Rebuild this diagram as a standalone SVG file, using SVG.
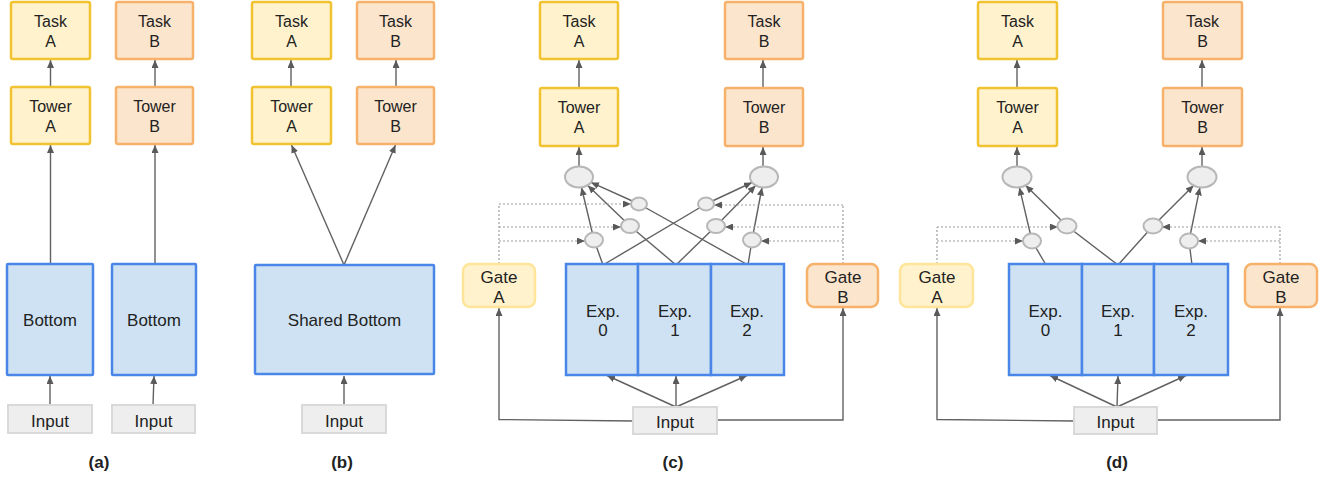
<svg xmlns="http://www.w3.org/2000/svg" width="1338" height="483" viewBox="0 0 1338 483">
<style>
text{font-family:"Liberation Sans",Arial,sans-serif;fill:#222;text-anchor:middle}
.t16{font-size:16px}
.t17{font-size:17px}
.lab{font-size:17px;font-weight:bold}
.ya{fill:#fff2cc;stroke:#f1c232;stroke-width:2.5}
.ob{fill:#fce5cd;stroke:#f6b26b;stroke-width:2.5}
.ga{fill:#fff2cc;stroke:#ffe599;stroke-width:2.5}
.gb{fill:#fce5cd;stroke:#f6b26b;stroke-width:2.5}
.bl{fill:#cfe2f3;stroke:#4a86e8;stroke-width:2.5}
.in{fill:#eeeeee;stroke:#d9d9d9;stroke-width:2}
.ci{fill:#eeeeee;stroke:#b7b7b7;stroke-width:2}
.ln{fill:none;stroke:#616161;stroke-width:1.4}
.dt{fill:none;stroke:#9e9e9e;stroke-width:1.2;stroke-dasharray:2 2}
.ar{marker-end:url(#ah)}
</style>
<defs>
<marker id="ah" markerWidth="8" markerHeight="7" refX="8" refY="3.5" orient="auto" markerUnits="userSpaceOnUse">
<path d="M0,0 L8,3.5 L0,7 z" fill="#595959"/>
</marker>
</defs>

<g id="connectors">
<!-- (a) -->
<line class="ln ar" x1="50.5" y1="87" x2="50.5" y2="60"/>
<line class="ln ar" x1="155" y1="87" x2="155" y2="60"/>
<line class="ln ar" x1="50.5" y1="264" x2="50.5" y2="145"/>
<line class="ln ar" x1="155" y1="264" x2="155" y2="145"/>
<line class="ln ar" x1="50" y1="405" x2="50" y2="376"/>
<line class="ln ar" x1="153" y1="405" x2="154" y2="376"/>
<!-- (b) -->
<line class="ln ar" x1="291" y1="87" x2="291" y2="60"/>
<line class="ln ar" x1="396" y1="87" x2="396" y2="60"/>
<line class="ln ar" x1="344" y1="265" x2="291.5" y2="145"/>
<line class="ln ar" x1="344" y1="265" x2="395.5" y2="145"/>
<line class="ln ar" x1="344" y1="405" x2="344" y2="376"/>
<!-- (c) -->
<line class="ln ar" x1="579" y1="88" x2="579" y2="60"/>
<line class="ln ar" x1="763" y1="88" x2="763" y2="60"/>
<line class="ln ar" x1="579" y1="166" x2="579" y2="147"/>
<line class="ln ar" x1="763" y1="166" x2="763" y2="147"/>
<line class="ln" x1="603" y1="265" x2="594" y2="240"/>
<line class="ln" x1="603" y1="265" x2="706" y2="204"/>
<line class="ln" x1="676" y1="265" x2="630" y2="226"/>
<line class="ln" x1="676" y1="265" x2="716" y2="226"/>
<line class="ln" x1="748" y1="265" x2="639" y2="204"/>
<line class="ln" x1="748" y1="265" x2="752" y2="240"/>
<line class="ln ar" x1="594" y1="240" x2="581.5" y2="187.5"/>
<line class="ln ar" x1="630" y1="226" x2="587.8" y2="185.4"/>
<line class="ln ar" x1="639" y1="204" x2="591" y2="182.4"/>
<line class="ln ar" x1="706" y1="204" x2="752" y2="182.5"/>
<line class="ln ar" x1="716" y1="226" x2="755.7" y2="185.5"/>
<line class="ln ar" x1="752" y1="240" x2="762" y2="187.5"/>
<polyline class="dt" points="499,264 499,204 499,204"/>
<polyline class="dt ar" points="499,204 631,204"/>
<polyline class="dt ar" points="499,227 621,227"/>
<polyline class="dt ar" points="499,241 585,241"/>
<polyline class="dt" points="843,264 843,205"/>
<polyline class="dt ar" points="843,205 714,205"/>
<polyline class="dt ar" points="843,227 725,227"/>
<polyline class="dt ar" points="843,241 761,241"/>
<line class="ln ar" x1="676" y1="407" x2="607" y2="375.5"/>
<line class="ln ar" x1="676" y1="407" x2="676" y2="376"/>
<line class="ln ar" x1="676" y1="407" x2="747" y2="375.5"/>
<polyline class="ln ar" points="633,421 499,419.5 499,308"/>
<polyline class="ln ar" points="717,420 843,420 843,308"/>
<!-- (d) -->
<line class="ln ar" x1="1017" y1="88" x2="1017" y2="60"/>
<line class="ln ar" x1="1202" y1="88" x2="1202" y2="60"/>
<line class="ln ar" x1="1017" y1="166" x2="1017" y2="147"/>
<line class="ln ar" x1="1202" y1="166" x2="1202" y2="147"/>
<line class="ln" x1="1046" y1="265" x2="1032" y2="241"/>
<line class="ln" x1="1118" y1="265" x2="1067" y2="226"/>
<line class="ln" x1="1118" y1="265" x2="1153" y2="226"/>
<line class="ln" x1="1192" y1="265" x2="1189" y2="241"/>
<line class="ln ar" x1="1032" y1="241" x2="1019.4" y2="187.4"/>
<line class="ln ar" x1="1067" y1="226" x2="1025.5" y2="185.3"/>
<line class="ln ar" x1="1153" y1="226" x2="1193.6" y2="185.4"/>
<line class="ln ar" x1="1189" y1="241" x2="1199.9" y2="187.4"/>
<polyline class="dt" points="937,264 937,227"/>
<polyline class="dt ar" points="937,227 1058,227"/>
<polyline class="dt ar" points="937,241 1023,241"/>
<polyline class="dt" points="1280,264 1280,227"/>
<polyline class="dt ar" points="1280,227 1162,227"/>
<polyline class="dt ar" points="1280,241 1198,241"/>
<line class="ln ar" x1="1117" y1="407" x2="1050" y2="375.5"/>
<line class="ln ar" x1="1117" y1="407" x2="1118" y2="376"/>
<line class="ln ar" x1="1117" y1="407" x2="1186" y2="375.5"/>
<polyline class="ln ar" points="1074,421 937,419.5 937,308"/>
<polyline class="ln ar" points="1157,420 1280,420 1280,308"/>
</g>

<!-- panel (a) -->
<g id="a-taskA"><rect class="ya" x="11" y="2" width="79" height="57" rx="2"/><text class="t16" x="50.5" y="27">Task</text><text class="t16" x="50.5" y="47">A</text></g>
<g id="a-taskB"><rect class="ob" x="116" y="2" width="77" height="57" rx="2"/><text class="t16" x="154.5" y="27">Task</text><text class="t16" x="154.5" y="47">B</text></g>
<g id="a-towerA"><rect class="ya" x="11" y="87" width="79" height="57" rx="2"/><text class="t16" x="50.5" y="112">Tower</text><text class="t16" x="50.5" y="132">A</text></g>
<g id="a-towerB"><rect class="ob" x="116" y="87" width="77" height="57" rx="2"/><text class="t16" x="154.5" y="112">Tower</text><text class="t16" x="154.5" y="132">B</text></g>
<g id="a-bottom1"><rect class="bl" x="7" y="264" width="86" height="111" rx="1"/><text class="t17" x="50" y="326">Bottom</text></g>
<g id="a-bottom2"><rect class="bl" x="112" y="264" width="84" height="111" rx="1"/><text class="t17" x="154" y="326">Bottom</text></g>
<g id="a-input1"><rect class="in" x="8" y="405" width="84" height="28"/><text class="t17" x="50" y="427">Input</text></g>
<g id="a-input2"><rect class="in" x="112" y="405" width="83" height="28"/><text class="t17" x="153.5" y="427">Input</text></g>
<text class="lab" x="99" y="468">(a)</text>

<!-- panel (b) -->
<g id="b-taskA"><rect class="ya" x="252" y="2" width="79" height="57" rx="2"/><text class="t16" x="291.5" y="27">Task</text><text class="t16" x="291.5" y="47">A</text></g>
<g id="b-taskB"><rect class="ob" x="357" y="2" width="77" height="57" rx="2"/><text class="t16" x="395.5" y="27">Task</text><text class="t16" x="395.5" y="47">B</text></g>
<g id="b-towerA"><rect class="ya" x="252" y="87" width="79" height="57" rx="2"/><text class="t16" x="291.5" y="112">Tower</text><text class="t16" x="291.5" y="132">A</text></g>
<g id="b-towerB"><rect class="ob" x="357" y="87" width="77" height="57" rx="2"/><text class="t16" x="395.5" y="112">Tower</text><text class="t16" x="395.5" y="132">B</text></g>
<g id="b-shared"><rect class="bl" x="255" y="265" width="179" height="109" rx="1"/><text class="t17" x="344.5" y="326">Shared Bottom</text></g>
<g id="b-input"><rect class="in" x="302" y="405" width="84" height="28"/><text class="t17" x="344" y="427">Input</text></g>
<text class="lab" x="342" y="468">(b)</text>

<!-- panel (c) -->
<g id="c-taskA"><rect class="ya" x="540" y="2" width="78" height="57" rx="2"/><text class="t16" x="579" y="27">Task</text><text class="t16" x="579" y="47">A</text></g>
<g id="c-taskB"><rect class="ob" x="725" y="2" width="78" height="57" rx="2"/><text class="t16" x="764" y="27">Task</text><text class="t16" x="764" y="47">B</text></g>
<g id="c-towerA"><rect class="ya" x="540" y="88" width="78" height="58" rx="2"/><text class="t16" x="579" y="113">Tower</text><text class="t16" x="579" y="133">A</text></g>
<g id="c-towerB"><rect class="ob" x="725" y="88" width="78" height="58" rx="2"/><text class="t16" x="764" y="113">Tower</text><text class="t16" x="764" y="133">B</text></g>
<g id="c-combA"><ellipse class="ci" cx="579" cy="177" rx="14" ry="10.5"/></g>
<g id="c-combB"><ellipse class="ci" cx="764" cy="177" rx="14" ry="10.5"/></g>
<g id="c-wA2"><ellipse class="ci" cx="639" cy="204" rx="8" ry="6.5"/></g>
<g id="c-wA1"><ellipse class="ci" cx="630" cy="226" rx="9" ry="7"/></g>
<g id="c-wA0"><ellipse class="ci" cx="594" cy="240" rx="9" ry="7.5"/></g>
<g id="c-wB0"><ellipse class="ci" cx="706" cy="204" rx="8" ry="6.5"/></g>
<g id="c-wB1"><ellipse class="ci" cx="716" cy="226" rx="9" ry="7"/></g>
<g id="c-wB2"><ellipse class="ci" cx="752" cy="240" rx="9" ry="7.5"/></g>
<g id="c-gateA"><rect class="ga" x="463" y="264" width="72" height="43" rx="7"/><text class="t17" x="499" y="283">Gate</text><text class="t17" x="499" y="303">A</text></g>
<g id="c-gateB"><rect class="gb" x="807" y="264" width="71" height="43" rx="7"/><text class="t17" x="843" y="283">Gate</text><text class="t17" x="843" y="303">B</text></g>
<g id="c-exp0"><rect class="bl" x="566" y="264" width="72" height="111"/><text class="t17" x="603" y="317">Exp.</text><text class="t17" x="603" y="336">0</text></g>
<g id="c-exp1"><rect class="bl" x="638" y="264" width="73" height="111"/><text class="t17" x="675" y="317">Exp.</text><text class="t17" x="675" y="336">1</text></g>
<g id="c-exp2"><rect class="bl" x="711" y="264" width="73" height="111"/><text class="t17" x="747" y="317">Exp.</text><text class="t17" x="747" y="336">2</text></g>
<g id="c-input"><rect class="in" x="633" y="407" width="84" height="27"/><text class="t17" x="675" y="428">Input</text></g>
<text class="lab" x="673" y="468">(c)</text>

<!-- panel (d) -->
<g id="d-taskA"><rect class="ya" x="978" y="2" width="79" height="57" rx="2"/><text class="t16" x="1017.5" y="27">Task</text><text class="t16" x="1017.5" y="47">A</text></g>
<g id="d-taskB"><rect class="ob" x="1163" y="2" width="79" height="57" rx="2"/><text class="t16" x="1202.5" y="27">Task</text><text class="t16" x="1202.5" y="47">B</text></g>
<g id="d-towerA"><rect class="ya" x="978" y="88" width="79" height="58" rx="2"/><text class="t16" x="1017.5" y="113">Tower</text><text class="t16" x="1017.5" y="133">A</text></g>
<g id="d-towerB"><rect class="ob" x="1163" y="88" width="79" height="58" rx="2"/><text class="t16" x="1202.5" y="113">Tower</text><text class="t16" x="1202.5" y="133">B</text></g>
<g id="d-combA"><ellipse class="ci" cx="1017" cy="177" rx="14.5" ry="10.5"/></g>
<g id="d-combB"><ellipse class="ci" cx="1202" cy="177" rx="14.5" ry="10.5"/></g>
<g id="d-wA1"><ellipse class="ci" cx="1067" cy="226" rx="9.5" ry="7.5"/></g>
<g id="d-wA0"><ellipse class="ci" cx="1032" cy="241" rx="9" ry="7.5"/></g>
<g id="d-wB1"><ellipse class="ci" cx="1153" cy="226" rx="9.5" ry="7.5"/></g>
<g id="d-wB2"><ellipse class="ci" cx="1189" cy="241" rx="9" ry="7.5"/></g>
<g id="d-gateA"><rect class="ga" x="900" y="264" width="73" height="43" rx="7"/><text class="t17" x="937" y="283">Gate</text><text class="t17" x="937" y="303">A</text></g>
<g id="d-gateB"><rect class="gb" x="1245" y="264" width="72" height="43" rx="7"/><text class="t17" x="1281" y="283">Gate</text><text class="t17" x="1281" y="303">B</text></g>
<g id="d-exp0"><rect class="bl" x="1009" y="264" width="73" height="111"/><text class="t17" x="1045.5" y="317">Exp.</text><text class="t17" x="1045.5" y="336">0</text></g>
<g id="d-exp1"><rect class="bl" x="1082" y="264" width="72" height="111"/><text class="t17" x="1118" y="317">Exp.</text><text class="t17" x="1118" y="336">1</text></g>
<g id="d-exp2"><rect class="bl" x="1154" y="264" width="74" height="111"/><text class="t17" x="1191" y="317">Exp.</text><text class="t17" x="1191" y="336">2</text></g>
<g id="d-input"><rect class="in" x="1074" y="407" width="83" height="27"/><text class="t17" x="1115.5" y="428">Input</text></g>
<text class="lab" x="1117" y="468">(d)</text>
</svg>
